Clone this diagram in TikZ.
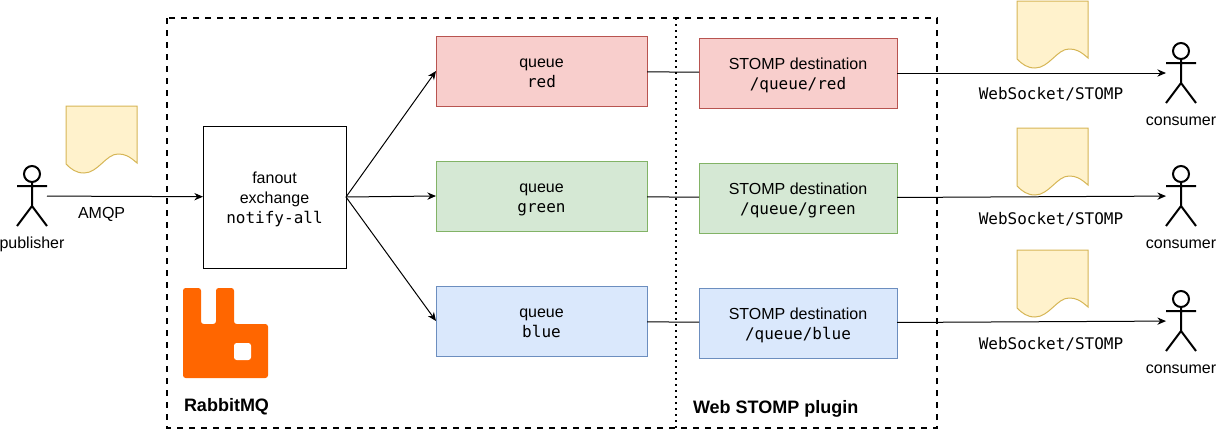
\documentclass[tikz,border=0pt]{standalone}
\usepackage{fontspec}
\setmainfont{Liberation Sans}
\setmonofont{DejaVu Sans Mono}
\usetikzlibrary{positioning,arrows.meta}
\definecolor{redfill}{HTML}{F8CECC}
\definecolor{redline}{HTML}{B85450}
\definecolor{greenfill}{HTML}{D5E8D4}
\definecolor{greenline}{HTML}{82B366}
\definecolor{bluefill}{HTML}{DAE8FC}
\definecolor{blueline}{HTML}{6C8EBF}
\definecolor{paperfill}{HTML}{FFF2CC}
\definecolor{paperline}{HTML}{D6B656}
\definecolor{rabbit}{HTML}{FF6600}
\tikzset{
  every node/.style={font=\fontsize{12}{15}\selectfont, align=center, line width=0.75pt, outer sep=0pt,
    execute at begin node=\strut, execute at end node=\strut},
  box/.style={draw, inner sep=0pt, execute at begin node={\rule{0pt}{#1}}},
  queue/.style={box=28.5pt, minimum width=158.25pt, minimum height=52.5pt},
  dest/.style={box=28.5pt, minimum width=148.5pt, minimum height=52.5pt},
  actor/.style={minimum width=22.5pt, minimum height=45pt, inner sep=0pt, label={[inner sep=0pt, yshift=-6pt]below:#1}},
  title/.style={anchor=west, inner sep=0pt, font=\fontsize{13.5}{15}\selectfont\bfseries},
  wire/.style={line width=0.75pt},
  flow/.style={wire, -{Stealth[length=6.5pt,width=5.5pt]}},
  paper/.pic={
    \draw[draw=paperline, fill=paperfill, line width=0.75pt]
      (0,0) -- (71,0) -- (71,57) .. controls (63,50) and (59,48) .. (52,48)
      .. controls (40,48) and (32,67) .. (18,67) .. controls (10,67) and (5,63) .. (0,58) -- cycle;
  },
  stick/.pic={
    \draw[line width=1.5pt] (0,-22) circle (8*0.75pt);
    \draw[line width=1.5pt] (0,-14) -- (0,10) (-15,-10) -- (15,-10) (-15,30) -- (0,10) -- (15,30);
  }
}
\begin{document}
\begin{tikzpicture}[x=0.75pt, y=-0.75pt, node distance=41.25pt and 39pt]
    \useasboundingbox (0,0) rectangle (1217,429);

    % broker frame
    \draw[line width=1.5pt, dash pattern=on 4.5pt off 4.5pt] (167,18) rectangle (937,428);
    \coordinate (plugintop) at (676,18);
    \coordinate (pluginbot) at (676,428);
    \draw[line width=1.5pt, dash pattern=on 1.5pt off 3pt] (plugintop) -- (pluginbot);

    \node[actor=publisher] (publisher) at (32,196) {};
    \node[box=43.5pt, minimum width=107.25pt, minimum height=106.5pt] (exchange) at (274.5,197) {fanout\\exchange\\\texttt{notify-all}};

    \node[queue, fill=redfill, draw=redline] (qred) at (541.5,71) {queue\\\texttt{red}};
    \node[queue, fill=greenfill, draw=greenline, below=of qred] (qgreen) {queue\\\texttt{green}};
    \node[queue, fill=bluefill, draw=blueline, below=of qgreen] (qblue) {queue\\\texttt{blue}};

    \node[dest, fill=redfill, draw=redline, right=of qred, yshift=-1.5pt] (dred) {STOMP destination\\\texttt{/queue/red}};
    \node[dest, fill=greenfill, draw=greenline, right=of qgreen, yshift=-1.5pt] (dgreen) {STOMP destination\\\texttt{/queue/green}};
    \node[dest, fill=bluefill, draw=blueline, right=of qblue, yshift=-1.5pt] (dblue) {STOMP destination\\\texttt{/queue/blue}};

    \node[actor=consumer] (cred) at (1181,73) {};
    \node[actor=consumer] (cgreen) at (1181,196) {};
    \node[actor=consumer] (cblue) at (1181,321) {};

    \pic at (publisher) {stick};
    \pic at (cred) {stick};
    \pic at (cgreen) {stick};
    \pic at (cblue) {stick};

    \pic at (66,106) {paper};
    \pic at (1017,1) {paper};
    \pic at (1017,128) {paper};
    \pic at (1017,250) {paper};

    \draw[flow] (publisher) -- node[pos=0.35, yshift=-13.5pt] (amqp) {AMQP} (exchange);
    \draw[flow] (exchange.east) -- (qred.west);
    \draw[flow] (exchange.east) -- (qgreen.west);
    \draw[flow] (exchange.east) -- (qblue.west);

    \draw[wire] (qred) -- (dred);
    \draw[wire] (qgreen) -- (dgreen);
    \draw[wire] (qblue) -- (dblue);

    \draw[flow] (dred) -- (cred);
    \draw[flow] (dgreen) -- (cgreen);
    \draw[flow] (dblue) -- (cblue);

    \node (wsred) at (1051,95) {\texttt{WebSocket/STOMP}};
    \node (wsgreen) at (1051,220) {\texttt{WebSocket/STOMP}};
    \node (wsblue) at (1051,345) {\texttt{WebSocket/STOMP}};

    % logo
    \fill[rabbit, rounded corners=2pt] (183,288) -- (201,288) -- (201,324) -- (216,324) -- (216,288)
      -- (234,288) -- (234,324) -- (268,324) -- (268,378) -- (183,378) -- cycle;
    \fill[white, rounded corners=2pt] (234,343) rectangle (251,360);

    \node[title] (rabbitmq) at (184,407) {RabbitMQ};
    \node[title] (webstomp) at (693,409) {Web STOMP plugin};
\end{tikzpicture}
\end{document}
